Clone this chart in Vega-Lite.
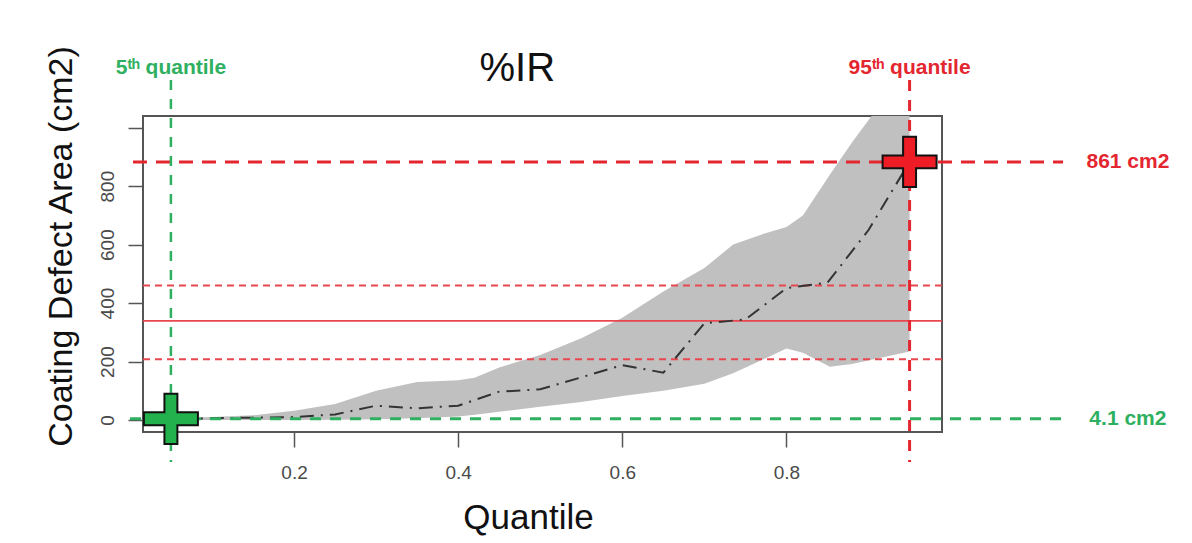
{
  "$schema": "https://vega.github.io/schema/vega-lite/v6.json",
  "autosize": "none",
  "width": 799,
  "height": 316,
  "padding": {"left": 143, "top": 116, "right": 250, "bottom": 111},
  "background": "white",
  "config": {
    "font": "Liberation Sans",
    "view": {"stroke": "#555555", "strokeWidth": 2},
    "axis": {"grid": false, "domain": false, "tickColor": "#555555", "tickWidth": 1.5, "tickSize": 15, "labelColor": "#4a4a4a", "labelFontSize": 19, "titleColor": "#111111", "titleFontWeight": "normal", "titleFontSize": 35}
  },
  "layer": [
    {
      "data": {"values": [
        {"q": 0.05, "lo": 0, "hi": 6},
        {"q": 0.10, "lo": 0, "hi": 10},
        {"q": 0.15, "lo": 0, "hi": 16},
        {"q": 0.20, "lo": 0, "hi": 32},
        {"q": 0.25, "lo": 1, "hi": 55},
        {"q": 0.30, "lo": 3, "hi": 100},
        {"q": 0.35, "lo": 6, "hi": 130},
        {"q": 0.40, "lo": 12, "hi": 136},
        {"q": 0.42, "lo": 18, "hi": 145},
        {"q": 0.45, "lo": 28, "hi": 180},
        {"q": 0.50, "lo": 45, "hi": 222},
        {"q": 0.55, "lo": 62, "hi": 280},
        {"q": 0.60, "lo": 82, "hi": 350},
        {"q": 0.65, "lo": 100, "hi": 440},
        {"q": 0.70, "lo": 124, "hi": 520},
        {"q": 0.735, "lo": 160, "hi": 600},
        {"q": 0.77, "lo": 205, "hi": 635},
        {"q": 0.80, "lo": 245, "hi": 660},
        {"q": 0.82, "lo": 230, "hi": 700},
        {"q": 0.853, "lo": 182, "hi": 840},
        {"q": 0.88, "lo": 192, "hi": 950},
        {"q": 0.905, "lo": 207, "hi": 1045},
        {"q": 0.95, "lo": 234, "hi": 1250}
      ]},
      "mark": {"type": "area", "color": "#c0c0c0", "opacity": 1, "clip": true},
      "encoding": {
        "x": {"field": "q", "type": "quantitative", "scale": {"domain": [0.016, 0.9895], "nice": false, "zero": false},
          "axis": {"values": [0.2, 0.4, 0.6, 0.8], "format": ".1f", "labelPadding": 16, "title": "Quantile", "titlePadding": 18, "titleX": 385}},
        "y": {"field": "lo", "type": "quantitative", "scale": {"domain": [-41, 1040], "nice": false, "zero": false},
          "axis": {"values": [0, 200, 400, 600, 800, 1000], "labelExpr": "datum.value == 1000 ? '' : datum.label", "labelAngle": 270, "labelAlign": "center", "labelBaseline": "bottom", "labelPadding": 11, "title": "Coating Defect Area (cm2)", "titleFontSize": 34, "titlePadding": 20, "titleY": 130}},
        "y2": {"field": "hi"}
      }
    },
    {
      "data": {"values": [{"v": 460, "style": "dashed"}, {"v": 208, "style": "dashed"}]},
      "mark": {"type": "rule", "color": "#e8474f", "strokeWidth": 2, "strokeDash": [7, 5]},
      "encoding": {"y": {"field": "v", "type": "quantitative"}}
    },
    {
      "data": {"values": [{"v": 339}]},
      "mark": {"type": "rule", "color": "#e8474f", "strokeWidth": 1.8},
      "encoding": {"y": {"field": "v", "type": "quantitative"}}
    },
    {
      "data": {"values": [
        {"q": 0.05, "m": 4.1}, {"q": 0.10, "m": 6}, {"q": 0.15, "m": 8}, {"q": 0.20, "m": 10},
        {"q": 0.25, "m": 19}, {"q": 0.30, "m": 49}, {"q": 0.35, "m": 40}, {"q": 0.40, "m": 49},
        {"q": 0.45, "m": 97}, {"q": 0.50, "m": 105}, {"q": 0.55, "m": 146}, {"q": 0.60, "m": 188},
        {"q": 0.65, "m": 162}, {"q": 0.70, "m": 331}, {"q": 0.75, "m": 344}, {"q": 0.80, "m": 451},
        {"q": 0.85, "m": 470}, {"q": 0.90, "m": 650}, {"q": 0.95, "m": 883}
      ]},
      "mark": {"type": "line", "color": "#333333", "strokeWidth": 2, "strokeDash": [2, 7, 14, 7]},
      "encoding": {"x": {"field": "q", "type": "quantitative"}, "y": {"field": "m", "type": "quantitative"}}
    },
    {
      "data": {"values": [{"x1": 0.0002, "x2": 1.137, "v": 4.1}]},
      "mark": {"type": "rule", "color": "#2eb060", "strokeWidth": 3, "strokeDash": [11, 9]},
      "encoding": {"x": {"field": "x1", "type": "quantitative"}, "x2": {"field": "x2"}, "y": {"field": "v", "type": "quantitative"}}
    },
    {
      "data": {"values": [{"x1": 0.0038, "x2": 1.137, "v": 883}]},
      "mark": {"type": "rule", "color": "#e3262f", "strokeWidth": 3, "strokeDash": [14, 9]},
      "encoding": {"x": {"field": "x1", "type": "quantitative"}, "x2": {"field": "x2"}, "y": {"field": "v", "type": "quantitative"}}
    },
    {
      "data": {"values": [{"q": 0.05, "y1": 1163, "y2": -144}]},
      "mark": {"type": "rule", "color": "#2eb060", "strokeWidth": 2.5, "strokeDash": [10, 9]},
      "encoding": {"x": {"field": "q", "type": "quantitative"}, "y": {"field": "y1", "type": "quantitative"}, "y2": {"field": "y2"}}
    },
    {
      "data": {"values": [{"q": 0.95, "y1": 1163, "y2": -144}]},
      "mark": {"type": "rule", "color": "#e3262f", "strokeWidth": 3, "strokeDash": [11, 9]},
      "encoding": {"x": {"field": "q", "type": "quantitative"}, "y": {"field": "y1", "type": "quantitative"}, "y2": {"field": "y2"}}
    },
    {
      "data": {"values": [{"q": 0.05, "v": 4.1, "c": "low"}, {"q": 0.95, "v": 883, "c": "high"}]},
      "mark": {"type": "point", "filled": true, "opacity": 1, "size": 2916, "stroke": "#111111", "strokeWidth": 2,
        "shape": "M-0.24,-0.93L0.24,-0.93L0.24,-0.24L1,-0.24L1,0.24L0.24,0.24L0.24,0.93L-0.24,0.93L-0.24,0.24L-1,0.24L-1,-0.24L-0.24,-0.24Z"},
      "encoding": {
        "x": {"field": "q", "type": "quantitative"},
        "y": {"field": "v", "type": "quantitative"},
        "fill": {"field": "c", "type": "nominal", "scale": {"domain": ["low", "high"], "range": ["#22b14c", "#ee1c24"]}, "legend": null}
      }
    },
    {
      "data": {"values": [
        {"x": 0.05, "y": 1204, "t": "5ᵗʰ quantile", "c": "g"},
        {"x": 0.95, "y": 1204, "t": "95ᵗʰ quantile", "c": "r"},
        {"x": 1.216, "y": 883, "t": "861 cm2", "c": "r"},
        {"x": 1.216, "y": 4.1, "t": "4.1 cm2", "c": "g"}
      ]},
      "mark": {"type": "text", "fontSize": 21, "fontWeight": "bold", "align": "center", "baseline": "middle"},
      "encoding": {
        "x": {"field": "x", "type": "quantitative"},
        "y": {"field": "y", "type": "quantitative"},
        "text": {"field": "t"},
        "color": {"field": "c", "type": "nominal", "scale": {"domain": ["g", "r"], "range": ["#2eb060", "#e3262f"]}, "legend": null}
      }
    },
    {
      "data": {"values": [{"x": 0.472, "y": 1200, "t": "%IR"}]},
      "mark": {"type": "text", "fontSize": 40, "align": "center", "baseline": "middle", "color": "#111111"},
      "encoding": {"x": {"field": "x", "type": "quantitative"}, "y": {"field": "y", "type": "quantitative"}, "text": {"field": "t"}}
    }
  ]
}
